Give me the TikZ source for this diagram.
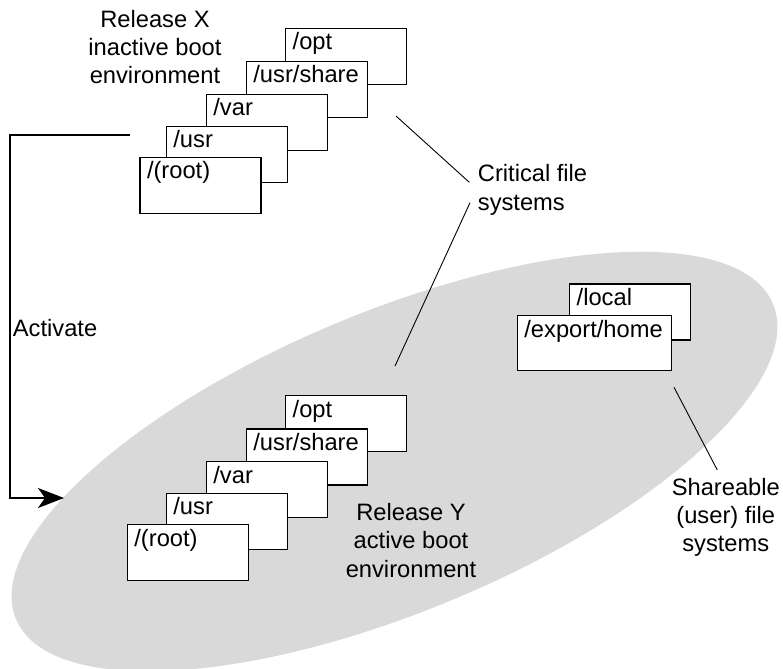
\documentclass[tikz,border=0pt]{standalone}
\usepackage{fontspec}
\setmainfont{Liberation Sans}
\usetikzlibrary{arrows.meta}

\definecolor{envgray}{RGB}{217,217,217}

% one file-system box: name, left, top, width, text
\newcommand\filesysbox[5]{%
  \node[fsframe, minimum width=#4] (#1) at (#2,#3) {};
  \node[fslabel] (#1-t) at ([shift={(7.5,22)}]#1.north west) {#5};
}

\tikzset{
  txt/.style={font=\fontsize{23.7bp}{28.4bp}\selectfont, inner sep=0pt, text=black},
  fsframe/.style={draw=black, line width=1.2bp, fill=white, rectangle,
                  anchor=north west, inner sep=0pt, minimum height=56bp},
  fslabel/.style={txt, anchor=base west},
  callout/.style={draw=black, line width=0.9bp},
  activatearrow/.style={draw=black, line width=2bp,
                        -{Stealth[length=26bp, width=20bp, inset=7bp]}},
}

\begin{document}
\begin{tikzpicture}[x=1bp, y=-1bp]
\useasboundingbox (0,0) rectangle (783,669);

% shaded region of the running system
\fill[envgray] (394.5,461.5) ellipse [x radius=410bp, y radius=150bp, rotate=22.6];

% inactive boot environment (release X)
\filesysbox{xopt}{285}{28}{121bp}{/opt}
\filesysbox{xshare}{245.7}{61}{121bp}{/usr/share}
\filesysbox{xvar}{205.7}{94}{121bp}{/var}
\filesysbox{xusr}{165.7}{125.7}{121bp}{/usr}
\filesysbox{xroot}{139.3}{156.7}{121bp}{/(root)}

\node[txt, align=center, anchor=north] (xlabel) at (155,9.7)
  {Release X\\inactive boot\\environment};

% active boot environment (release Y)
\filesysbox{yopt}{285}{395}{121bp}{/opt}
\filesysbox{yshare}{245.7}{428.3}{121bp}{/usr/share}
\filesysbox{yvar}{205.7}{461}{121bp}{/var}
\filesysbox{yusr}{165.7}{492.7}{121bp}{/usr}
\filesysbox{yroot}{126.7}{524}{121bp}{/(root)}

\node[txt, align=center, anchor=north] (ylabel) at (411,503)
  {Release Y\\active boot\\environment};

% shareable file systems
\filesysbox{local}{569}{283.3}{121bp}{/local}
\node[fsframe, minimum width=154bp, minimum height=55bp] (export) at (516.7,315) {};
\node[fslabel] (export-t) at ([shift={(7.5,22)}]export.north west) {/export/home};

% annotations
\node[txt, align=left, anchor=north west] (critical) at (477.7,164.4)
  {Critical file\\systems};
\node[txt, align=center, anchor=north] (shareable) at (725.8,477.7)
  {Shareable\\(user) file\\systems};
\node[txt, anchor=base west] (activate) at (12.7,336.7) {Activate};

\coordinate (c1a) at (396,116);
\coordinate (c1b) at (469.3,182.3);
\coordinate (c2a) at (470,202.7);
\coordinate (c2b) at (395,366);
\coordinate (c3a) at (674,387.3);
\coordinate (c3b) at (717.3,470);
\draw[callout] (c1a) -- (c1b);
\draw[callout] (c2a) -- (c2b);
\draw[callout] (c3a) -- (c3b);

% activation arrow
\coordinate (actfrom) at (130,135);
\coordinate (actbend) at (9.5,135);
\coordinate (actto) at (64,498);
\draw[activatearrow] (actfrom) -- (actbend) |- (actto);
\end{tikzpicture}
\end{document}
